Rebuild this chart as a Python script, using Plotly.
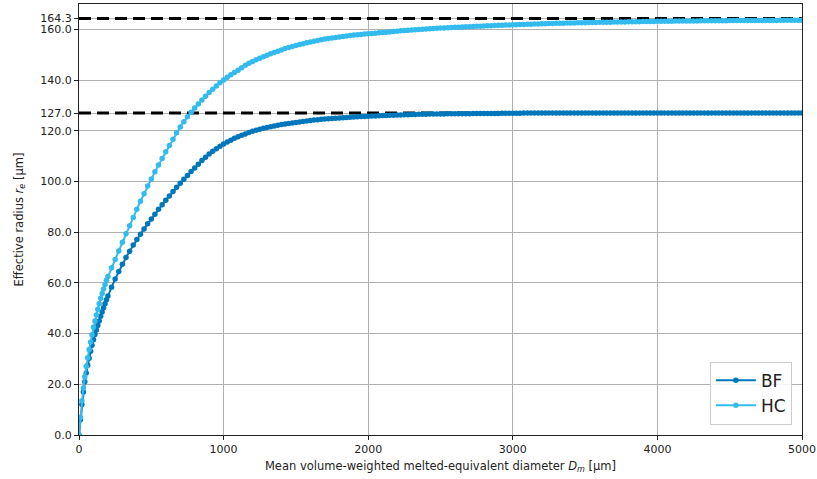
import plotly.graph_objects as go

# Sampling grid of the mean volume-weighted melted-equivalent diameter (µm)
dm_fine = [0, 10, 20, 30, 40, 50, 60, 70, 80, 90, 100, 110, 120, 130, 140, 150, 160, 170, 180, 190]
dm_coarse = list(range(200, 5001, 25))
dm = dm_fine + dm_coarse

# Effective radius (µm)
re_bf = [
    0, 6, 12, 17, 21, 24.5, 27.5, 30.3, 33, 35.4, 37.6, 39.6, 41.4, 43.2, 45, 46.8, 48.5, 50.2, 51.8, 53.3,
    54.8, 58.3, 61.5, 64.5, 67.3, 70.0, 72.5, 74.9, 77.1, 79.2, 81.3, 83.3,
    85.2, 87.1, 89.0, 90.8, 92.6, 94.3, 96.0, 97.7, 99.3, 100.9, 102.4, 103.9,
    105.3, 106.8, 108.3, 109.6, 110.8, 111.9, 112.9, 113.9, 114.8, 115.6, 116.3, 117.0,
    117.6, 118.2, 118.7, 119.3, 119.8, 120.2, 120.6, 121.0, 121.3, 121.6, 121.9, 122.2,
    122.5, 122.7, 122.9, 123.1, 123.3, 123.5, 123.7, 123.9, 124.0, 124.2, 124.3, 124.5,
    124.6, 124.7, 124.8, 124.9, 125.0, 125.1, 125.2, 125.3, 125.4, 125.5, 125.6, 125.6,
    125.7, 125.8, 125.8, 125.9, 126.0, 126.0, 126.1, 126.1, 126.2, 126.2, 126.3, 126.3,
    126.4, 126.4, 126.5, 126.5, 126.5, 126.6, 126.6, 126.6, 126.6, 126.6, 126.7, 126.7,
    126.7, 126.7, 126.7, 126.7, 126.7, 126.8, 126.8, 126.8, 126.8, 126.8, 126.8, 126.8,
    126.8, 126.9, 126.9, 126.9, 126.9, 126.9, 126.9, 127.0, 127.0, 127.0, 127.0, 127.0,
    127.0, 127.0, 127.0, 127.0, 127.0, 127.0, 127.0, 127.0, 127.0, 127.0, 127.0, 127.0,
    127.0, 127.0, 127.0, 127.0, 127.0, 127.0, 127.0, 127.0, 127.0, 127.0, 127.0, 127.0,
    127.0, 127.0, 127.0, 127.0, 127.0, 127.0, 127.0, 127.0, 127.0, 127.0, 127.0, 127.0,
    127.0, 127.0, 127.0, 127.0, 127.0, 127.0, 127.0, 127.0, 127.0, 127.0, 127.0, 127.0,
    127.0, 127.0, 127.0, 127.0, 127.0, 127.0, 127.0, 127.0, 127.0, 127.0, 127.0, 127.0,
    127.0, 127.0, 127.0, 127.0, 127.0, 127.0, 127.0, 127.0, 127.0, 127.0, 127.0, 127.0,
    127.0,
]

re_hc = [
    0, 7, 13.5, 18.5, 23, 27, 30.5, 33.7, 36.7, 39.5, 42.5, 45, 47.3, 49.6, 51.8, 53.9, 55.8, 57.6, 59.4, 61.0,
    62.5, 66.0, 69.2, 72.6, 76.0, 79.4, 82.5, 85.8, 89.0, 92.2, 95.2, 98.2,
    101.0, 103.8, 106.5, 109.1, 111.7, 114.2, 116.7, 119.2, 121.5, 123.6, 125.5, 127.3,
    129.0, 130.6, 132.1, 133.6, 135.1, 136.4, 137.7, 138.9, 140.0, 141.1, 142.1, 143.0,
    143.9, 144.9, 145.8, 146.6, 147.3, 148.0, 148.6, 149.2, 149.8, 150.4, 150.9, 151.4,
    151.9, 152.4, 152.8, 153.2, 153.6, 154.0, 154.3, 154.7, 155.0, 155.3, 155.6, 155.9,
    156.2, 156.4, 156.6, 156.8, 157.0, 157.2, 157.4, 157.6, 157.8, 157.9, 158.0, 158.2,
    158.3, 158.4, 158.5, 158.7, 158.8, 158.9, 159.0, 159.2, 159.3, 159.4, 159.5, 159.6,
    159.7, 159.8, 159.9, 160.0, 160.1, 160.2, 160.3, 160.4, 160.5, 160.5, 160.6, 160.7,
    160.8, 160.8, 160.9, 161.0, 161.0, 161.1, 161.2, 161.2, 161.3, 161.4, 161.4, 161.5,
    161.6, 161.6, 161.7, 161.7, 161.8, 161.8, 161.9, 161.9, 162.0, 162.0, 162.1, 162.1,
    162.2, 162.2, 162.3, 162.3, 162.4, 162.4, 162.4, 162.5, 162.5, 162.5, 162.6, 162.6,
    162.6, 162.7, 162.7, 162.7, 162.8, 162.8, 162.8, 162.8, 162.9, 162.9, 162.9, 162.9,
    163.0, 163.0, 163.0, 163.0, 163.1, 163.1, 163.1, 163.1, 163.2, 163.2, 163.2, 163.2,
    163.2, 163.3, 163.3, 163.3, 163.3, 163.3, 163.3, 163.3, 163.4, 163.4, 163.4, 163.4,
    163.4, 163.4, 163.4, 163.4, 163.5, 163.5, 163.5, 163.5, 163.5, 163.5, 163.5, 163.5,
    163.5, 163.5, 163.5, 163.5, 163.5, 163.5, 163.6, 163.6, 163.6, 163.6, 163.6, 163.6,
    163.6,
]

# Asymptotic limits (dashed reference lines)
limit_bf = 127.0
limit_hc = 164.3
x_span = [0, 5000]

x_ticks = [0, 1000, 2000, 3000, 4000, 5000]
y_ticks = [0, 20, 40, 60, 80, 100, 120, 140, 160, 127.0, 164.3]
y_tick_text = ["0.0", "20.0", "40.0", "60.0", "80.0", "100.0", "120.0", "140.0", "160.0", "127.0", "164.3"]

col_bf = "#0077BB"
col_hc = "#33BBEE"
FONT = "DejaVu Sans"

fig = go.Figure()
for lim in (limit_bf, limit_hc):
    fig.add_trace(go.Scatter(
        x=x_span, y=[lim, lim], mode="lines",
        line=dict(color="black", width=3, dash="12px,6px"),
        showlegend=False, hoverinfo="skip",
    ))

fig.add_trace(go.Scatter(
    x=dm, y=re_bf, mode="lines+markers", name="BF",
    line=dict(color=col_bf, width=2),
    marker=dict(color=col_bf, size=5.5),
))
fig.add_trace(go.Scatter(
    x=dm, y=re_hc, mode="lines+markers", name="HC",
    line=dict(color=col_hc, width=2),
    marker=dict(color=col_hc, size=5.5),
))

axis_common = dict(
    showline=True, linecolor="#222222", linewidth=1, mirror=True,
    showgrid=True, gridcolor="#b0b0b0", gridwidth=1,
    ticks="outside", ticklen=4, tickwidth=1, tickcolor="#222222",
    zeroline=False,
    tickfont=dict(family=FONT, size=11, color="#222222"),
)

fig.update_layout(
    width=817, height=479,
    margin=dict(l=79, r=15, t=4, b=44, autoexpand=False),
    paper_bgcolor="white", plot_bgcolor="white",
    font=dict(family=FONT, size=11, color="#222222"),
    xaxis=dict(
        range=[0, 5000], tickvals=x_ticks,
        title=dict(text="Mean volume-weighted melted-equivalent diameter <i>D</i><sub><i>m</i></sub> [µm]",
                   font=dict(family=FONT, size=11.5), standoff=6),
        **axis_common,
    ),
    yaxis=dict(
        range=[0, 170], tickvals=y_ticks, ticktext=y_tick_text,
        title=dict(text="Effective radius <i>r</i><sub><i>e</i></sub> [µm]",
                   font=dict(family=FONT, size=11.5), standoff=14),
        **axis_common,
    ),
    legend=dict(
        x=0.986, y=0.024, xanchor="right", yanchor="bottom",
        bgcolor="rgba(255,255,255,0.85)", bordercolor="#cccccc", borderwidth=1,
        font=dict(family=FONT, size=17, color="#222222"),
        itemwidth=40, tracegroupgap=2,
    ),
)

fig.write_html(
    "out.html",
    config={"displayModeBar": False},
    post_script="document.body.style.margin='0';document.body.style.padding='0';",
)
